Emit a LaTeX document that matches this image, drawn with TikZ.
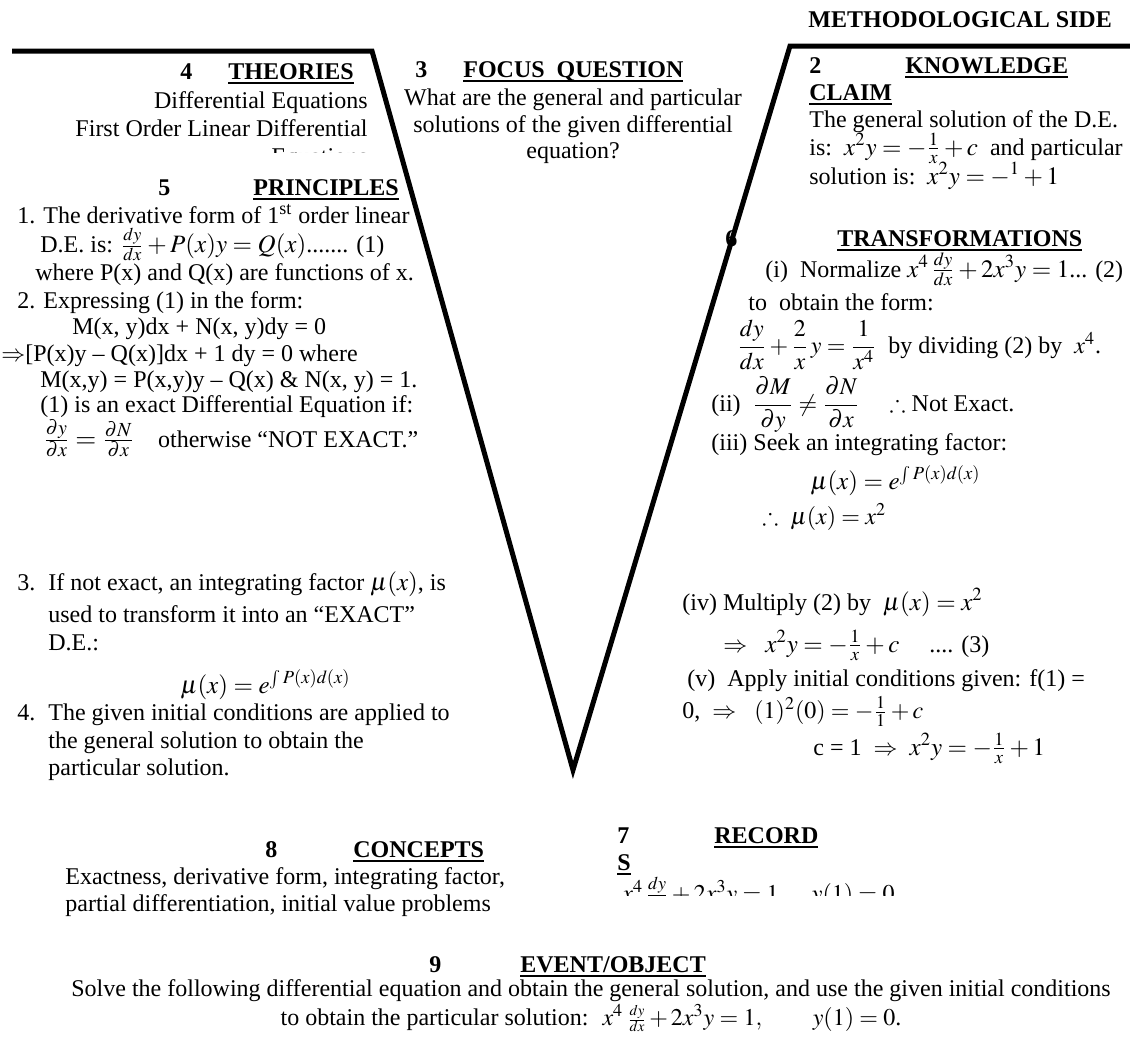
\documentclass[tikz,border=0pt]{standalone}
\usepackage{amsmath,amssymb}
\usepackage{mathptmx}
\usepackage{fontspec}
\setmainfont{Liberation Serif}
\newcommand{\hul}[1]{\setbox0=\hbox{#1}\rlap{\rule[-2.4pt]{\wd0}{1pt}}\box0}
\newcommand{\Mth}[1]{{\fontsize{12.5}{15}\selectfont$#1$}}
\newcommand{\sfr}[2]{{\fontsize{10}{12}\selectfont$\tfrac{#1}{#2}$}}
\begin{document}
\begin{tikzpicture}[x=0.5pt,y=-0.5pt,
  every node/.style={inner sep=0pt,font=\fontsize{12}{14.5}\selectfont},
  lw/.style={anchor=base west},
  le/.style={anchor=base east},
  lc/.style={anchor=base},
  vline/.style={line width=2.5pt,line join=miter,line cap=butt}]
\path[use as bounding box] (0,0) rectangle (1130,1039);

% methodological side
\node[lw] (meth) at (808,27) {\textbf{METHODOLOGICAL SIDE}};

% 4 theories
\node[lw] (th4) at (180,79) {\textbf{4}};
\node[lw] (thh) at (228,79) {\hul{\textbf{THEORIES}}};
\node[le] (th1) at (368,108) {Differential Equations};
\node[le] (th2) at (368,136) {First Order Linear Differential};
\begin{scope}
\clip (0,0) rectangle (400,152);
\node[le] (th3) at (368,164) {Equations};
\end{scope}

% 3 focus question
\node[lw] (fq3) at (415,77) {\textbf{3}};
\node[lw] (fqh) at (463,77) {\hul{\textbf{FOCUS\ \ QUESTION}}};
\node[lc] (fq1) at (573,105) {What are the general and particular};
\node[lc] (fq2) at (573,132) {solutions of the given differential};
\node[lc] (fq4) at (573,158) {equation?};

% 2 knowledge claim
\node[lw] (kc2) at (809,73) {\textbf{2}};
\node[lw] (kch) at (905,73) {\hul{\textbf{KNOWLEDGE}}};
\node[lw] (kch2) at (809,100) {\hul{\textbf{CLAIM}}};
\node[lw] (kc1) at (809,127) {The general solution of the D.E.};
\node[lw] (kc3) at (809,155) {is:\ \ \Mth{x^2y=-\tfrac{1}{x}+c} \ and particular};
\node[lw] (kc4) at (809,184) {solution is:\ \ \Mth{x^2y=-{}^{1}+1}};

% 5 principles
\node[lw] (pr5) at (158,195) {\textbf{5}};
\node[lw] (prh) at (253,195) {\hul{\textbf{PRINCIPLES}}};
\node[lw] (p1a) at (17,223) {1. The derivative form of 1\textsuperscript{st} order linear};
\node[lw] (p1b) at (40,252) {D.E. is: $\tfrac{dy}{dx}$\Mth{{}+P(x)y=Q(x)}....... (1)};
\node[lw] (p1c) at (35,280) {where P(x) and Q(x) are functions of x.};
\node[lw] (p2a) at (17,308) {2. Expressing (1) in the form:};
\node[lw] (p2b) at (72,334) {M(x, y)dx + N(x, y)dy = 0};
\node[lw] (p2c) at (1,361) {$\Rightarrow$[P(x)y – Q(x)]dx + 1 dy = 0 where};
\node[lw] (p2d) at (40,387) {M(x,y) = P(x,y)y – Q(x) \& N(x, y) = 1.};
\node[lw] (p2e) at (40,412) {(1) is an exact Differential Equation if:};
\node[lw] (p2f) at (43,447) {{\fontsize{13.5}{16}\selectfont$\tfrac{\partial y}{\partial x}=\tfrac{\partial N}{\partial x}$}\quad otherwise “NOT EXACT.”};

\node[lw] (p3a) at (17,590) {\makebox[15.5pt][l]{3.}If not exact, an integrating factor \Mth{\mu(x)}, is};
\node[lw] (p3b) at (48,622) {used to transform it into an “EXACT”};
\node[lw] (p3c) at (48,650) {D.E.:};
\node[lw] (p3d) at (180,693) {\Mth{\mu(x)=e^{\int P(x)d(x)}}};
\node[lw] (p4a) at (17,720) {\makebox[15.5pt][l]{4.}The given initial conditions are applied to};
\node[lw] (p4b) at (48,748) {the general solution to obtain the};
\node[lw] (p4c) at (48,775) {particular solution.};

% 6 transformations
\node[lw] (tr6) at (725,246) {\textbf{6}};
\node[lw] (trh) at (837,246) {\hul{\textbf{TRANSFORMATIONS}}};
\node[lw] (t1) at (765,277) {(i)\ \ Normalize\ \Mth{x^4\,\tfrac{dy}{dx}+2x^3y=1}... (2)};
\node[lw] (t2) at (748,310) {to \ obtain the form:};
\node[lw] (t3) at (737,353) {$\dfrac{dy}{dx}+\dfrac{2}{x}\,y=\dfrac{1}{x^4}$ \ by dividing (2) by \ $x^4$.};
\node[lw] (t4) at (711,411) {(ii) \ $\dfrac{\partial M}{\partial y}\neq\dfrac{\partial N}{\partial x}$ \quad $\therefore$ Not Exact.};
\node[lw] (t5) at (711,450) {(iii) Seek an integrating factor:};
\node[lw] (t6) at (810,489) {\Mth{\mu(x)=e^{\int P(x)d(x)}}};
\node[lw] (t7) at (762,524) {$\therefore$ \ $\mu(x)=x^2$};
\node[lw] (t8) at (682,610) {(iv) Multiply (2) by \ \Mth{\mu(x)=x^2}};
\node[lw] (t9) at (723,652) {$\Rightarrow$ \ \ \Mth{x^2y=-\tfrac{1}{x}+c} \quad .... (3)};
\node[lw] (t10) at (687,686) {(v) \ Apply initial conditions given: f(1) =};
\node[lw] (t11) at (682,718) {0, \ $\Rightarrow$ \ \ $(1)^2(0)=-\tfrac{1}{1}+c$};
\node[lw] (t12) at (813,755) {c = 1 \ $\Rightarrow$ \ \Mth{x^2y=-\tfrac{1}{x}+1}};

% 8 concepts
\node[lw] (c8) at (265,857) {\textbf{8}};
\node[lw] (ch) at (353,857) {\hul{\textbf{CONCEPTS}}};
\node[lw] (c1) at (65,884) {Exactness, derivative form, integrating factor,};
\node[lw] (c2) at (65,911) {partial differentiation, initial value problems};

% 7 records
\node[lw] (r7) at (617,843) {\textbf{7}};
\node[lw] (rh) at (714,843) {\hul{\textbf{RECORD}}};
\node[lw] (rs) at (617,870) {\hul{\textbf{S}}};
\begin{scope}
\clip (600,876) rectangle (900,895);
\node[lw] (r1) at (622,901) {$x^4\,\tfrac{dy}{dx}+2x^3y=1,\quad y(1)=0$};
\end{scope}

% 9 event/object
\node[lw] (e9) at (429,972) {\textbf{9}};
\node[lw] (eh) at (520,972) {\hul{\textbf{EVENT/OBJECT}}};
\node[lc] (e1) at (591,996) {Solve the following differential equation and obtain the general solution, and use the given initial conditions};
\node[lc] (e2) at (591,1025) {to obtain the particular solution: \ $x^4$\,\sfr{dy}{dx}$\,{+}\,2x^3y=1,\qquad y(1)=0$.};

% the V
\coordinate (va) at (12,51);
\coordinate (vb) at (372,51);
\coordinate (vc) at (573,770);
\coordinate (vd) at (790,46);
\coordinate (ve) at (1130,46);
\draw[vline] (va) -- (vb) -- (vc) -- (vd) -- (ve);
\end{tikzpicture}
\end{document}
